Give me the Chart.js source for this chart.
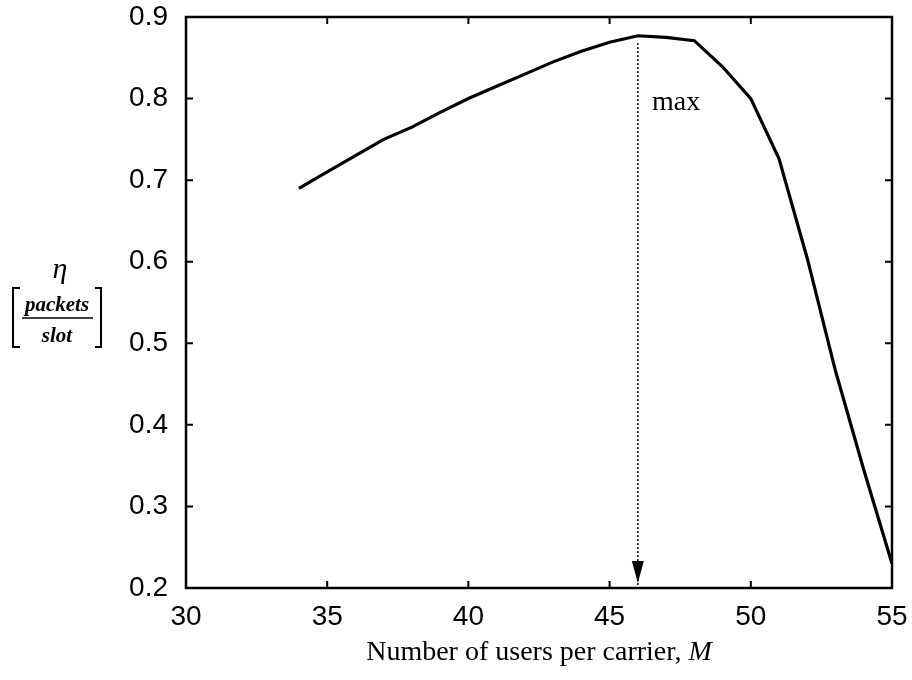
<!DOCTYPE html>
<html>
<head>
<meta charset="utf-8">
<script src="https://cdn.jsdelivr.net/npm/chart.js@4/dist/chart.umd.min.js"></script>
<style>
  html, body { margin: 0; padding: 0; background: #fff; }
  canvas { display: block; }
</style>
</head>
<body>
<canvas id="eta-chart" width="912" height="680"></canvas>
<script>
// --- data ---
const USERS = [34, 35, 36, 37, 38, 39, 40, 41, 42, 43, 44, 45, 46, 47, 48, 49, 50, 51, 52, 53, 54, 55];
const ETA = [0.69, 0.71, 0.73, 0.75, 0.765, 0.783, 0.80, 0.815, 0.83, 0.845, 0.858, 0.869, 0.877, 0.875, 0.871, 0.839, 0.80, 0.726, 0.604, 0.466, 0.345, 0.23];
const X_TICKS = [30, 35, 40, 45, 50, 55];
const Y_TICKS = [0.2, 0.3, 0.4, 0.5, 0.6, 0.7, 0.8, 0.9];

// pointer to the throughput peak
const MAX_M = 46;
const MAX_ARROW_FROM = 0.868;
const MAX_ARROW_TO = 0.2;
const MAX_LABEL = "max";
const MAX_LABEL_AT = [46.5, 0.786];

const X_TITLE = "Number of users per carrier, ";
const X_TITLE_VAR = "M";

const SANS = "'Liberation Sans', Arial, sans-serif";
const SERIF = "'Liberation Serif', 'Times New Roman', serif";

// frame, inward ticks, arrowhead and the mixed-font titles
const decorations = {
  id: "decorations",
  afterDatasetsDraw(chart) {
    const { ctx, chartArea: a, scales: { x, y } } = chart;
    ctx.save();
    ctx.strokeStyle = "#000";
    ctx.fillStyle = "#000";

    // box
    ctx.lineWidth = 2.5;
    ctx.strokeRect(a.left, a.top, a.right - a.left, a.bottom - a.top);

    // inward ticks on all four sides
    ctx.lineWidth = 2;
    ctx.beginPath();
    for (const v of X_TICKS) {
      const px = x.getPixelForValue(v);
      ctx.moveTo(px, a.bottom); ctx.lineTo(px, a.bottom - 7);
      ctx.moveTo(px, a.top); ctx.lineTo(px, a.top + 7);
    }
    for (const v of Y_TICKS) {
      const py = y.getPixelForValue(v);
      ctx.moveTo(a.left, py); ctx.lineTo(a.left + 7, py);
      ctx.moveTo(a.right, py); ctx.lineTo(a.right - 7, py);
    }
    ctx.stroke();

    // arrowhead at the bottom of the dotted pointer
    const ax = x.getPixelForValue(MAX_M);
    const ay = y.getPixelForValue(MAX_ARROW_TO) - 5;
    ctx.beginPath();
    ctx.moveTo(ax, ay);
    ctx.lineTo(ax - 6, ay - 22);
    ctx.lineTo(ax + 6, ay - 22);
    ctx.closePath();
    ctx.fill();

    // "max"
    ctx.font = `28px ${SERIF}`;
    ctx.textAlign = "left";
    ctx.textBaseline = "alphabetic";
    ctx.fillText(MAX_LABEL, x.getPixelForValue(MAX_LABEL_AT[0]), y.getPixelForValue(MAX_LABEL_AT[1]));

    // x title with italic M
    ctx.font = `28px ${SERIF}`;
    const w1 = ctx.measureText(X_TITLE).width;
    ctx.font = `italic 28px ${SERIF}`;
    const w2 = ctx.measureText(X_TITLE_VAR).width;
    const tx = (a.left + a.right) / 2 - (w1 + w2) / 2;
    const ty = 660;
    ctx.font = `28px ${SERIF}`;
    ctx.fillText(X_TITLE, tx, ty);
    ctx.font = `italic 28px ${SERIF}`;
    ctx.fillText(X_TITLE_VAR, tx + w1, ty);

    // y title: eta over [packets / slot]
    ctx.textAlign = "center";
    ctx.font = `italic 30px ${SERIF}`;
    ctx.fillText("\u03b7", 60, 278);
    ctx.font = `bold italic 21px ${SERIF}`;
    ctx.fillText("packets", 57, 311);
    ctx.fillText("slot", 57, 342);
    ctx.lineWidth = 1.5;
    ctx.beginPath();
    ctx.moveTo(22, 318); ctx.lineTo(93, 318);
    ctx.stroke();
    ctx.lineWidth = 2;
    ctx.beginPath();
    ctx.moveTo(20, 288); ctx.lineTo(13, 288); ctx.lineTo(13, 347); ctx.lineTo(20, 347);
    ctx.moveTo(95, 288); ctx.lineTo(101, 288); ctx.lineTo(101, 347); ctx.lineTo(95, 347);
    ctx.stroke();

    ctx.restore();
  },
};

new Chart(document.getElementById("eta-chart"), {
  type: "line",
  data: {
    datasets: [
      {
        data: USERS.map((m, i) => ({ x: m, y: ETA[i] })),
        borderColor: "#000",
        borderWidth: 3.2,
        pointRadius: 0,
        tension: 0,
      },
      {
        data: [{ x: MAX_M, y: MAX_ARROW_FROM }, { x: MAX_M, y: MAX_ARROW_TO }],
        borderColor: "#000",
        borderWidth: 1.5,
        borderDash: [2, 2],
        pointRadius: 0,
      },
    ],
  },
  options: {
    responsive: false,
    animation: false,
    layout: { padding: { top: 17, right: 20, left: 0, bottom: 0 } },
    plugins: { legend: { display: false }, tooltip: { enabled: false } },
    scales: {
      x: {
        type: "linear",
        min: 30,
        max: 55,
        afterBuildTicks: (s) => { s.ticks = X_TICKS.map((v) => ({ value: v })); },
        afterFit: (s) => { s.height = 92; s.paddingLeft = 0; s.paddingRight = 0; },
        grid: { display: false },
        border: { display: false },
        ticks: { color: "#000", font: { family: SANS, size: 28 }, padding: 4, maxRotation: 0 },
      },
      y: {
        min: 0.2,
        max: 0.9,
        afterBuildTicks: (s) => { s.ticks = Y_TICKS.map((v) => ({ value: v })); },
        afterFit: (s) => { s.width = 186; s.paddingTop = 0; s.paddingBottom = 0; },
        grid: { display: false },
        border: { display: false },
        ticks: { color: "#000", font: { family: SANS, size: 28 }, padding: 10, callback: (v) => v.toFixed(1) },
      },
    },
  },
  plugins: [decorations],
});
</script>
</body>
</html>
